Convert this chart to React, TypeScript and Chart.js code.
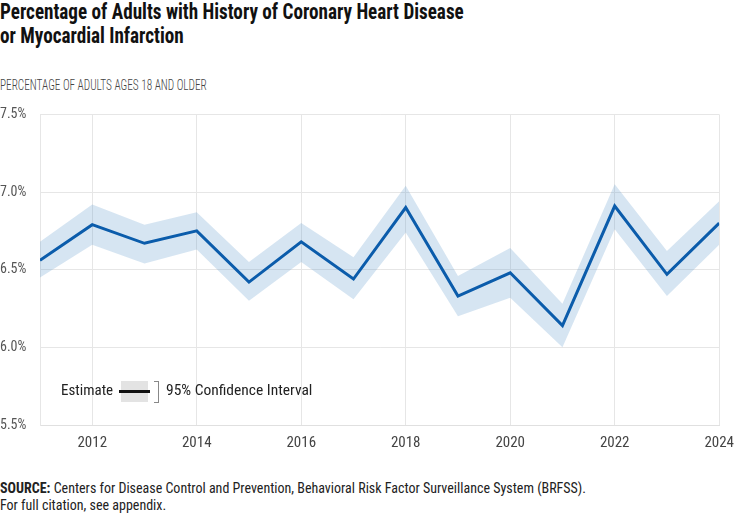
import React, { useEffect, useRef } from "react";
import { Chart, registerables } from "chart.js";

Chart.register(...registerables);

// Survey years
const years = [2011, 2012, 2013, 2014, 2015, 2016, 2017, 2018, 2019, 2020, 2021, 2022, 2023, 2024];
// Point estimate (%)
const estimate = [6.56, 6.79, 6.67, 6.75, 6.42, 6.68, 6.44, 6.90, 6.33, 6.48, 6.14, 6.91, 6.47, 6.80];
// 95% confidence interval bounds (%)
const ciUpper = [6.68, 6.92, 6.79, 6.87, 6.55, 6.80, 6.58, 7.04, 6.46, 6.64, 6.28, 7.05, 6.62, 6.94];
const ciLower = [6.45, 6.66, 6.54, 6.63, 6.30, 6.55, 6.31, 6.74, 6.20, 6.32, 6.00, 6.76, 6.33, 6.66];
// Labelled years on the x axis
const xTickYears = [2012, 2014, 2016, 2018, 2020, 2022, 2024];
// Labelled values on the y axis (%)
const yTickValues = [5.5, 6.0, 6.5, 7.0, 7.5];

const FONT = "'Liberation Sans Narrow', 'Roboto Condensed', 'Roboto', sans-serif";

export default function App() {
  const canvasRef = useRef<HTMLCanvasElement | null>(null);

  useEffect(() => {
    const canvas = canvasRef.current;
    if (!canvas) return;
    const toPoints = (vals: number[]) => years.map((y, i) => ({ x: y, y: vals[i] }));

    const chart = new Chart(canvas, {
      type: "line",
      data: {
        datasets: [
          {
            label: "Estimate",
            data: toPoints(estimate),
            borderColor: "#0b5cab",
            borderWidth: 3,
            pointRadius: 0,
            fill: false,
            tension: 0,
            order: 0,
          },
          {
            label: "CI upper",
            data: toPoints(ciUpper),
            borderWidth: 0,
            borderColor: "rgba(0,0,0,0)",
            backgroundColor: "rgba(91,151,203,0.25)",
            pointRadius: 0,
            fill: "+1",
            tension: 0,
            order: 1,
          },
          {
            label: "CI lower",
            data: toPoints(ciLower),
            borderWidth: 0,
            borderColor: "rgba(0,0,0,0)",
            pointRadius: 0,
            fill: false,
            tension: 0,
            order: 2,
          },
        ],
      },
      options: {
        animation: false,
        responsive: false,
        maintainAspectRatio: false,
        layout: { padding: { top: 11, right: 0, left: 0, bottom: 0 } },
        plugins: { legend: { display: false }, tooltip: { enabled: false } },
        scales: {
          x: {
            type: "linear",
            min: 2011,
            max: 2024,
            afterBuildTicks: (scale: any) => {
              scale.ticks = xTickYears.map((v) => ({ value: v }));
            },
            afterFit: (scale: any) => {
              scale.height = 35;
            },
            grid: { color: "#e6e6e6", lineWidth: 1, drawTicks: false },
            border: { display: true, color: "#e0e0e0" },
            ticks: {
              color: "#444",
              font: { family: FONT, size: 15 },
              padding: 9,
              maxRotation: 0,
              callback: (v: any) => String(v),
            },
          },
          y: {
            min: 5.5,
            max: 7.5,
            afterBuildTicks: (scale: any) => {
              scale.ticks = yTickValues.map((v) => ({ value: v }));
            },
            afterFit: (scale: any) => {
              scale.width = 40;
            },
            grid: { color: "#e6e6e6", lineWidth: 1, drawTicks: false },
            border: { display: true, color: "#e6e6e6" },
            ticks: {
              color: "#555",
              font: { family: FONT, size: 14 },
              crossAlign: "far",
              padding: 6,
              callback: (v: any) => Number(v).toFixed(1) + "%",
            },
          },
        },
      },
    });
    return () => chart.destroy();
  }, []);

  return (
    <div
      style={{
        position: "fixed",
        left: 0,
        top: 0,
        width: 734,
        height: 515,
        background: "#fff",
        fontFamily: FONT,
        overflow: "hidden",
      }}
    >
      <div
        style={{
          position: "absolute",
          left: 0,
          top: 0,
          fontSize: 22,
          fontWeight: 700,
          lineHeight: "24px",
          color: "#111",
          whiteSpace: "nowrap",
          transform: "scaleX(0.87)",
          transformOrigin: "0 0",
        }}
      >
        Percentage of Adults with History of Coronary Heart Disease
        <br />
        or Myocardial Infarction
      </div>
      <div
        style={{
          position: "absolute",
          left: 0,
          top: 76,
          fontSize: 15,
          fontWeight: 300,
          color: "#444",
          whiteSpace: "nowrap",
          transform: "scaleX(0.75)",
          transformOrigin: "0 0",
        }}
      >
        PERCENTAGE OF ADULTS AGES 18 AND OLDER
      </div>
      <canvas
        ref={canvasRef}
        width={743}
        height={360}
        style={{ position: "absolute", left: 0, top: 100, width: 743, height: 360 }}
      />
      {/* legend */}
      <div style={{ position: "absolute", left: 61, top: 381, fontSize: 15, color: "#222", whiteSpace: "nowrap" }}>
        Estimate
      </div>
      <div style={{ position: "absolute", left: 121, top: 381, width: 27, height: 21, background: "#e3e3e3" }} />
      <div style={{ position: "absolute", left: 119, top: 390, width: 31, height: 3, background: "#111" }} />
      <div
        style={{
          position: "absolute",
          left: 154,
          top: 381,
          width: 4,
          height: 20,
          borderTop: "1px solid #888",
          borderRight: "1px solid #888",
          borderBottom: "1px solid #888",
        }}
      />
      <div style={{ position: "absolute", left: 166, top: 381, fontSize: 15.5, color: "#222", whiteSpace: "nowrap" }}>
        95% Confidence Interval
      </div>
      <div
        style={{
          position: "absolute",
          left: 0,
          top: 480,
          fontSize: 14,
          lineHeight: "17px",
          color: "#222",
          whiteSpace: "nowrap",
        }}
      >
        <b>SOURCE:</b> Centers for Disease Control and Prevention, Behavioral Risk Factor Surveillance System (BRFSS).
        <br />
        For full citation, see appendix.
      </div>
    </div>
  );
}
